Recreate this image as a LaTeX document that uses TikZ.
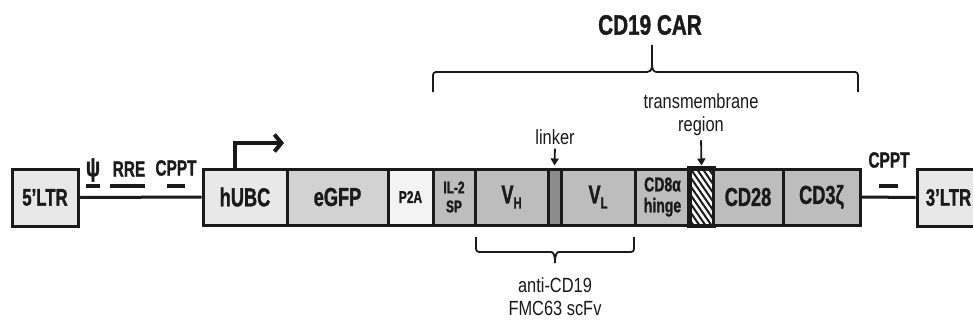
\documentclass[tikz,border=0pt]{standalone}
\usepackage{fontspec}
\setmainfont{Liberation Sans}[FakeStretch=0.7, BoldFeatures={FakeBold=1.2}]
\newfontfamily\thinfont{Liberation Sans}[FakeStretch=0.8]
\newfontfamily\carfont{Liberation Sans}[FakeStretch=0.74, BoldFeatures={FakeBold=1.2}]
\usetikzlibrary{arrows.meta}
\definecolor{ink}{HTML}{1A1A1A}
\definecolor{light}{HTML}{E8E8E8}
\definecolor{pale}{HTML}{F3F3F3}
\definecolor{mid}{HTML}{D2D2D2}
\definecolor{dark}{HTML}{BDBDBD}
\definecolor{darker}{HTML}{8C8C8C}
\begin{document}
\begin{tikzpicture}[x=1pt,y=-1pt,
  seg/.style={draw=ink, line width=3pt, minimum height=56pt, inner sep=0pt, text=ink,
              font=\fontsize{26}{28}\selectfont\bfseries, align=center},
  ltr/.style={seg, fill=light, minimum height=57pt, font=\fontsize{24}{26}\selectfont\bfseries},
  small/.style={font=\fontsize{17}{19}\selectfont\bfseries},
  lab/.style={text=ink, inner sep=1pt, font=\fontsize{22}{24}\selectfont\bfseries},
  thin/.style={text=ink, inner sep=1pt, align=center, font=\thinfont\fontsize{20.5}{23}\selectfont},
  bar/.style={draw=ink, line width=4pt},
  brace/.style={draw=ink, line width=1.8pt, rounded corners=3pt},
  pointer/.style={draw=ink, line width=1.8pt, -{Triangle[length=7pt,width=8pt]}}]
\useasboundingbox (0,0) rectangle (973,329);
\clip (0,0) rectangle (973,329);
\fill[white] (0,0) rectangle (973,329);
% LTRs
\node[ltr, minimum width=66pt] (ltr5) at (45,197.5) {5’LTR};
\node[ltr, minimum width=63pt] (ltr3) at (948.5,197.5) {3’LTR};
% main cassette
\node[seg, fill=light, minimum width=84pt] (hubc) at (245,197) {hUBC};
\node[seg, fill=mid, minimum width=101pt] (egfp) at (337.5,197) {eGFP};
\node[seg, fill=pale, minimum width=45pt, small] (p2a) at (410.5,197) {P2A};
\node[seg, fill=dark, minimum width=42pt, small, font=\fontsize{17}{19}\selectfont\bfseries] (il2) at (454,197) {IL-2\\SP};
\node[seg, fill=dark, minimum width=73pt] (vh) at (511.5,197) {V\raisebox{-5pt}{\fontsize{16}{16}\selectfont H}};
\node[seg, fill=darker, minimum width=13pt] (linker) at (554.5,197) {};
\node[seg, fill=dark, minimum width=74pt] (vl) at (598,197) {V\raisebox{-5pt}{\fontsize{16}{16}\selectfont L}};
\node[seg, fill=dark, minimum width=55pt, font=\fontsize{20}{21}\selectfont\bfseries] (cd8) at (662.5,197) {CD8α\\hinge};
\node[seg, fill=white, minimum width=23pt] (tm) at (701.5,197) {};
\begin{scope}
  \clip (tm.north west) rectangle (tm.south east);
  \foreach \x in {640,646,...,716} \draw[ink, line width=2pt] (\x,165) -- (\x+44,229);
\end{scope}
\draw[ink, line width=3pt] (tm.north west) rectangle (tm.south east);
\node[seg, fill=dark, minimum width=70pt] (cd28) at (748,197) {CD28};
\node[seg, fill=dark, minimum width=77pt] (cd3z) at (821.5,197) {CD3ζ};
% backbone
\draw[ink, line width=3pt] (ltr5.east) -- (hubc.west);
\draw[ink, line width=3pt] (cd3z.east) -- (ltr3.west);
% elements on backbone
\node[lab, font=\fontsize{27}{28}\selectfont\bfseries] (psi) at (93,170) {ψ};
\node[lab] (rre) at (129,169) {RRE};
\node[lab] (cppt1) at (176,168) {CPPT};
\node[lab] (cppt2) at (889,160) {CPPT};
\draw[bar] (86,186) -- (100,186);
\draw[bar] (110,186) -- (145,186);
\draw[bar] (167,186) -- (185,186);
\draw[bar] (879,186) -- (898,186);
% promoter arrow
\coordinate (prom) at (284,143);
\draw[ink, line width=4pt, -{Straight Barb[length=7pt,width=17pt]}] ([xshift=33pt]hubc.north west) |- (prom);
% linker label
\node[thin] (lk) at (555,137) {linker};
\draw[pointer, shorten <=3pt, shorten >=2pt] (lk.south) -- (linker.north);
% transmembrane label
\node[thin] (tmtext) at (701,115) {transmembrane\\region};
\draw[pointer, shorten <=3pt, shorten >=2pt] (tmtext.south) -- (tm.north);
% CD19 CAR brace
\node[text=ink, inner sep=1pt, font=\carfont\fontsize{28}{30}\selectfont\bfseries] (car) at (650,25) {CD19 CAR};
\draw[brace] (433,92) |- (644,72) .. controls (650,72) and (652,70) .. (652,64) -- (652,45);
\draw[brace] (858,92) |- (660,72) .. controls (654,72) and (652,70) .. (652,64);
% scFv brace
\draw[brace] (476,237) |- (548,252) .. controls (553,252) and (555,254) .. (555,263);
\draw[brace] (634,237) |- (562,252) .. controls (557,252) and (555,254) .. (555,263);
\node[thin] (scfv) at (555,297) {anti-CD19\\FMC63 scFv};
\end{tikzpicture}
\end{document}
